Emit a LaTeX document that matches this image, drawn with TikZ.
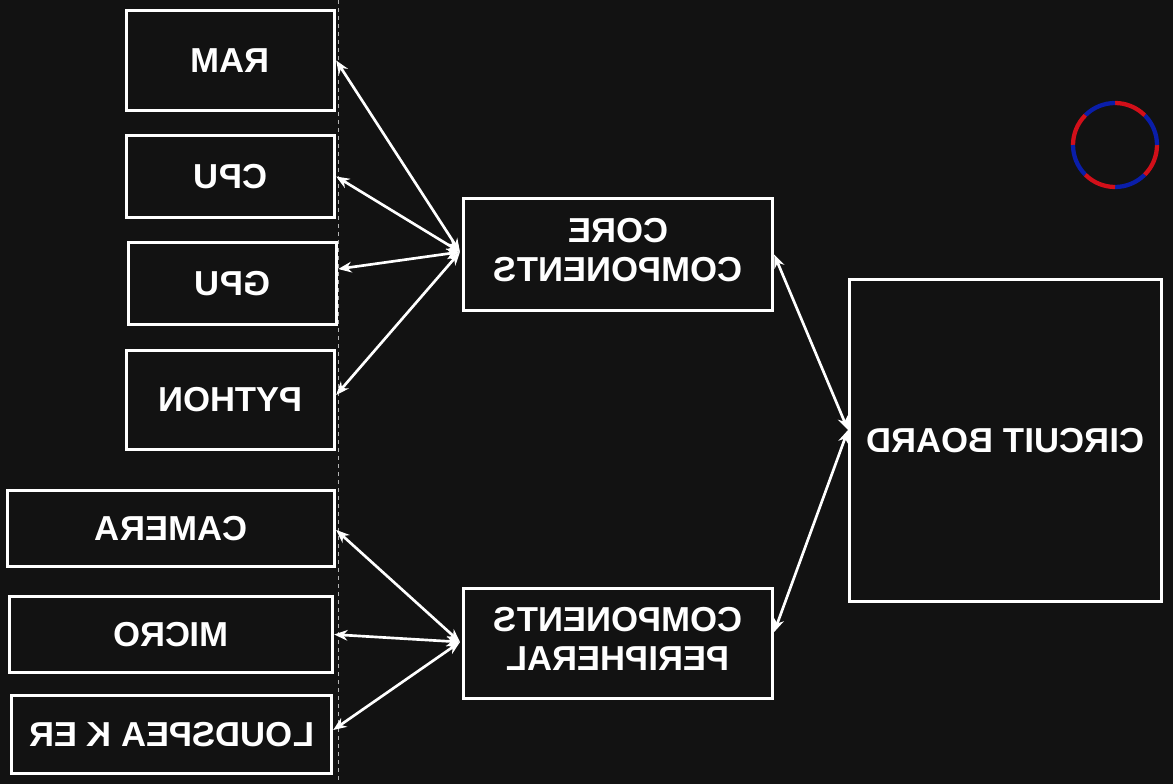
\documentclass[tikz,border=0pt]{standalone}
\usepackage{fontspec}
\setmainfont{Liberation Sans}
\usepackage{graphicx}
\usetikzlibrary{arrows.meta}
\begin{document}
\begin{tikzpicture}[x=0.75pt,y=-0.75pt,
  box/.style={draw=white,line width=2.3pt,align=center,text=white,font=\fontsize{26}{29}\selectfont\bfseries,inner sep=0pt},
  link/.style={draw=white,line width=2pt,{Stealth[length=10pt,width=8pt]}-{Stealth[length=10pt,width=8pt]}}]
\fill[fill={rgb,255:red,18;green,18;blue,18}] (0,0) rectangle (1173,784);
\useasboundingbox (0,0) rectangle (1173,784);
\draw[gray!60,dashed,line width=0.5pt] (338,0) -- (338,784);
\newcommand{\bx}[6]{\node[box,minimum width=#4*0.75pt-2pt,minimum height=#5*0.75pt-2pt] (#1) at (#2,#3) {#6};}
\bx{ram}{230.5}{60.5}{211}{103}{\reflectbox{RAM}}
\bx{cpu}{230.5}{176.5}{211}{85}{\reflectbox{CPU}}
\bx{gpu}{232.5}{283.5}{211}{85}{\reflectbox{GPU}}
\bx{py}{230.5}{400}{211}{102}{\reflectbox{PYTHON}}
\bx{cam}{171}{528.5}{330}{79}{\reflectbox{CAMERA}}
\bx{mic}{171}{634.5}{326}{79}{\reflectbox{MICRO}}
\bx{lsp}{171.5}{734.5}{323}{81}{\reflectbox{LOUDSPEA K ER}}
\bx{core}{618}{254.5}{312}{115}{\reflectbox{\begin{tabular}{@{}c@{}}CORE\\COMPONENTS\end{tabular}}}
\bx{per}{618}{643.5}{312}{113}{\reflectbox{\begin{tabular}{@{}c@{}}COMPONENTS\\PERIPHERAL\end{tabular}}}
\bx{cb}{1005.5}{440.5}{315}{325}{\reflectbox{CIRCUIT BOARD}}
\coordinate (ch) at (460,252);
\coordinate (ph) at (460,642);
\coordinate (cbh) at (848,430);
\draw[link] (ram.east) -- (ch);
\draw[link] (cpu.east) -- (ch);
\draw[link] (gpu.east|-0,269) -- (ch);
\draw[link] (py.east|-0,395) -- (ch);
\draw[link] (core.east) -- (cbh);
\draw[link] (per.east|-0,632) -- (cbh);
\draw[link] (cam.east|-0,530) -- (ph);
\draw[link] (mic.east) -- (ph);
\draw[link] (lsp.east|-0,730) -- (ph);
\definecolor{cb}{RGB}{10,30,170}
\definecolor{cr}{RGB}{210,15,25}
\begin{scope}[line width=3.2pt]
\foreach \a/\c in {90/cb,45/cr,0/cb,-45/cr,-90/cb,-135/cr,180/cb,135/cr}
  \draw[\c] (1115,145) ++(\a:42) arc[start angle=\a,delta angle=-45,radius=42];
\end{scope}
\end{tikzpicture}
\end{document}
